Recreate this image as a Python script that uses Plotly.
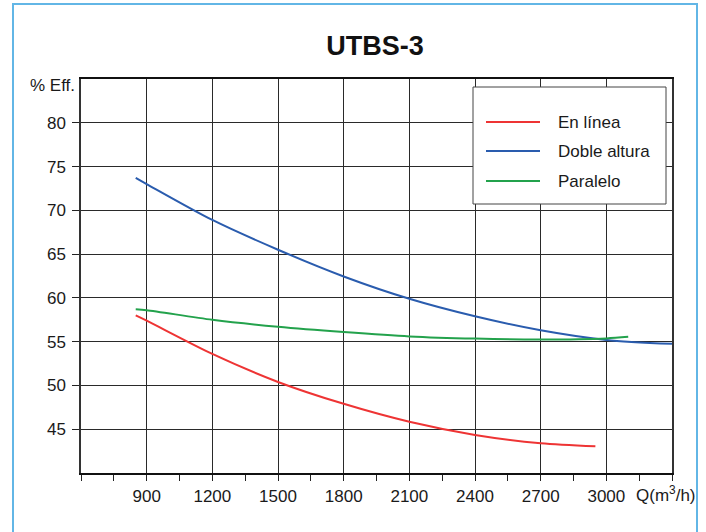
import plotly.graph_objects as go

# Data
q_en_linea = [850, 900, 1200, 1500, 1800, 2100, 2400, 2700, 2950]
eff_en_linea = [58.0, 57.4, 53.6, 50.4, 47.9, 45.85, 44.35, 43.4, 43.05]

q_doble = [850, 900, 1200, 1500, 1800, 2100, 2400, 2700, 3000, 3300]
eff_doble = [73.7, 73.0, 68.9, 65.5, 62.45, 59.9, 57.9, 56.3, 55.2, 54.75]

q_paralelo = [850, 900, 1200, 1500, 1800, 2100, 2400, 2700, 3000, 3100]
eff_paralelo = [58.7, 58.6, 57.5, 56.7, 56.1, 55.6, 55.35, 55.25, 55.37, 55.55]

x_tickvals = [900, 1200, 1500, 1800, 2100, 2400, 2700, 3000]
x_ticktext = ["900", "1200", "1500", "1800", "2100", "2400", "2700", "3000"]
x_unit_label = "Q(m<sup>3</sup>/h)"
y_tickvals = [45, 50, 55, 60, 65, 70, 75, 80]
y_ticktext = ["45", "50", "55", "60", "65", "70", "75", "80"]
y_unit_label = "% Eff."

series = [
    ("En línea", q_en_linea, eff_en_linea, "#EE3434"),
    ("Doble altura", q_doble, eff_doble, "#2A5CAE"),
    ("Paralelo", q_paralelo, eff_paralelo, "#23A24C"),
]

FONT = "Liberation Sans, Arial, Helvetica, sans-serif"

fig = go.Figure()
for name, xs, ys, col in series:
    fig.add_trace(go.Scatter(x=xs, y=ys, mode="lines", name=name,
                             line=dict(color=col, width=2, shape="spline", smoothing=0.8),
                             showlegend=False))

# plot area geometry in px (for paper-coordinate helpers)
L, R, T, B = 81, 672, 79, 473
W, H = R - L, B - T
def px(x):
    return (x - L) / W
def py(y):
    return (B - y) / H

shapes = []
annotations = []
# outer light-blue frame
shapes.append(dict(type="rect", xref="paper", yref="paper",
                   x0=px(13), x1=px(697), y0=py(545), y1=py(4),
                   line=dict(color="#62B6E6", width=2), fillcolor="rgba(0,0,0,0)", layer="below"))
# legend box
shapes.append(dict(type="rect", xref="paper", yref="paper",
                   x0=px(473), x1=px(666), y0=py(204), y1=py(87),
                   line=dict(color="#444444", width=1), fillcolor="white", layer="above"))
leg_y = [122, 151, 181]
for (name, xs, ys, col), yy in zip(series, leg_y):
    shapes.append(dict(type="line", xref="paper", yref="paper",
                       x0=px(486), x1=px(540), y0=py(yy), y1=py(yy),
                       line=dict(color=col, width=2), layer="above"))
    annotations.append(dict(text=name, xref="paper", yref="paper", x=px(556), y=py(yy),
                            xanchor="left", yanchor="middle", showarrow=False,
                            font=dict(size=17, color="#1a1a1a", family=FONT)))

annotations.append(dict(text=y_unit_label, xref="paper", yref="paper", x=px(77), y=py(85),
                        xanchor="right", yanchor="middle", showarrow=False,
                        font=dict(size=17, color="#1a1a1a", family=FONT)))
annotations.append(dict(text=x_unit_label, xref="paper", yref="paper", x=px(698), y=py(494),
                        xanchor="right", yanchor="middle", showarrow=False,
                        font=dict(size=17, color="#1a1a1a", family=FONT)))

fig.update_layout(
    width=706, height=532, autosize=False,
    margin=dict(l=L, r=706 - R, t=T, b=532 - B, autoexpand=False),
    paper_bgcolor="white", plot_bgcolor="white",
    title=dict(text="<b>UTBS-3</b>", x=375 / 706, xanchor="center",
               y=1 - 46 / 532, yanchor="middle",
               font=dict(size=27, color="#111111", family=FONT)),
    font=dict(family=FONT, size=17, color="#1a1a1a"),
    shapes=shapes, annotations=annotations,
    showlegend=False,
)
fig.update_xaxes(range=[600, 3300], tickmode="array", tickvals=x_tickvals, ticktext=x_ticktext,
                 automargin=False,
                 showgrid=True, gridcolor="#2a2a2a", gridwidth=1,
                 showline=True, linecolor="#111111", linewidth=2, mirror=True,
                 ticks="outside", ticklen=6, tickcolor="#222222", ticklabelstandoff=1,
                 minor=dict(tickmode="linear", tick0=600, dtick=150, ticks="outside",
                            ticklen=6, tickcolor="#222222", showgrid=False),
                 zeroline=False, tickfont=dict(size=17))
fig.update_yaxes(range=[40, 85], tickmode="array", tickvals=y_tickvals, ticktext=y_ticktext,
                 automargin=False,
                 showgrid=True, gridcolor="#2a2a2a", gridwidth=1,
                 showline=True, linecolor="#333333", linewidth=1.5, mirror=True,
                 ticks="outside", ticklen=7, tickcolor="#222222", ticklabelstandoff=3,
                 zeroline=False, tickfont=dict(size=17))

fig.write_html(
    "out.html",
    config={"displayModeBar": False, "responsive": False},
    post_script=("document.documentElement.style.margin='0';"
                 "document.documentElement.style.overflow='hidden';"
                 "document.body.style.margin='0';"
                 "document.body.style.overflow='hidden';"),
)
